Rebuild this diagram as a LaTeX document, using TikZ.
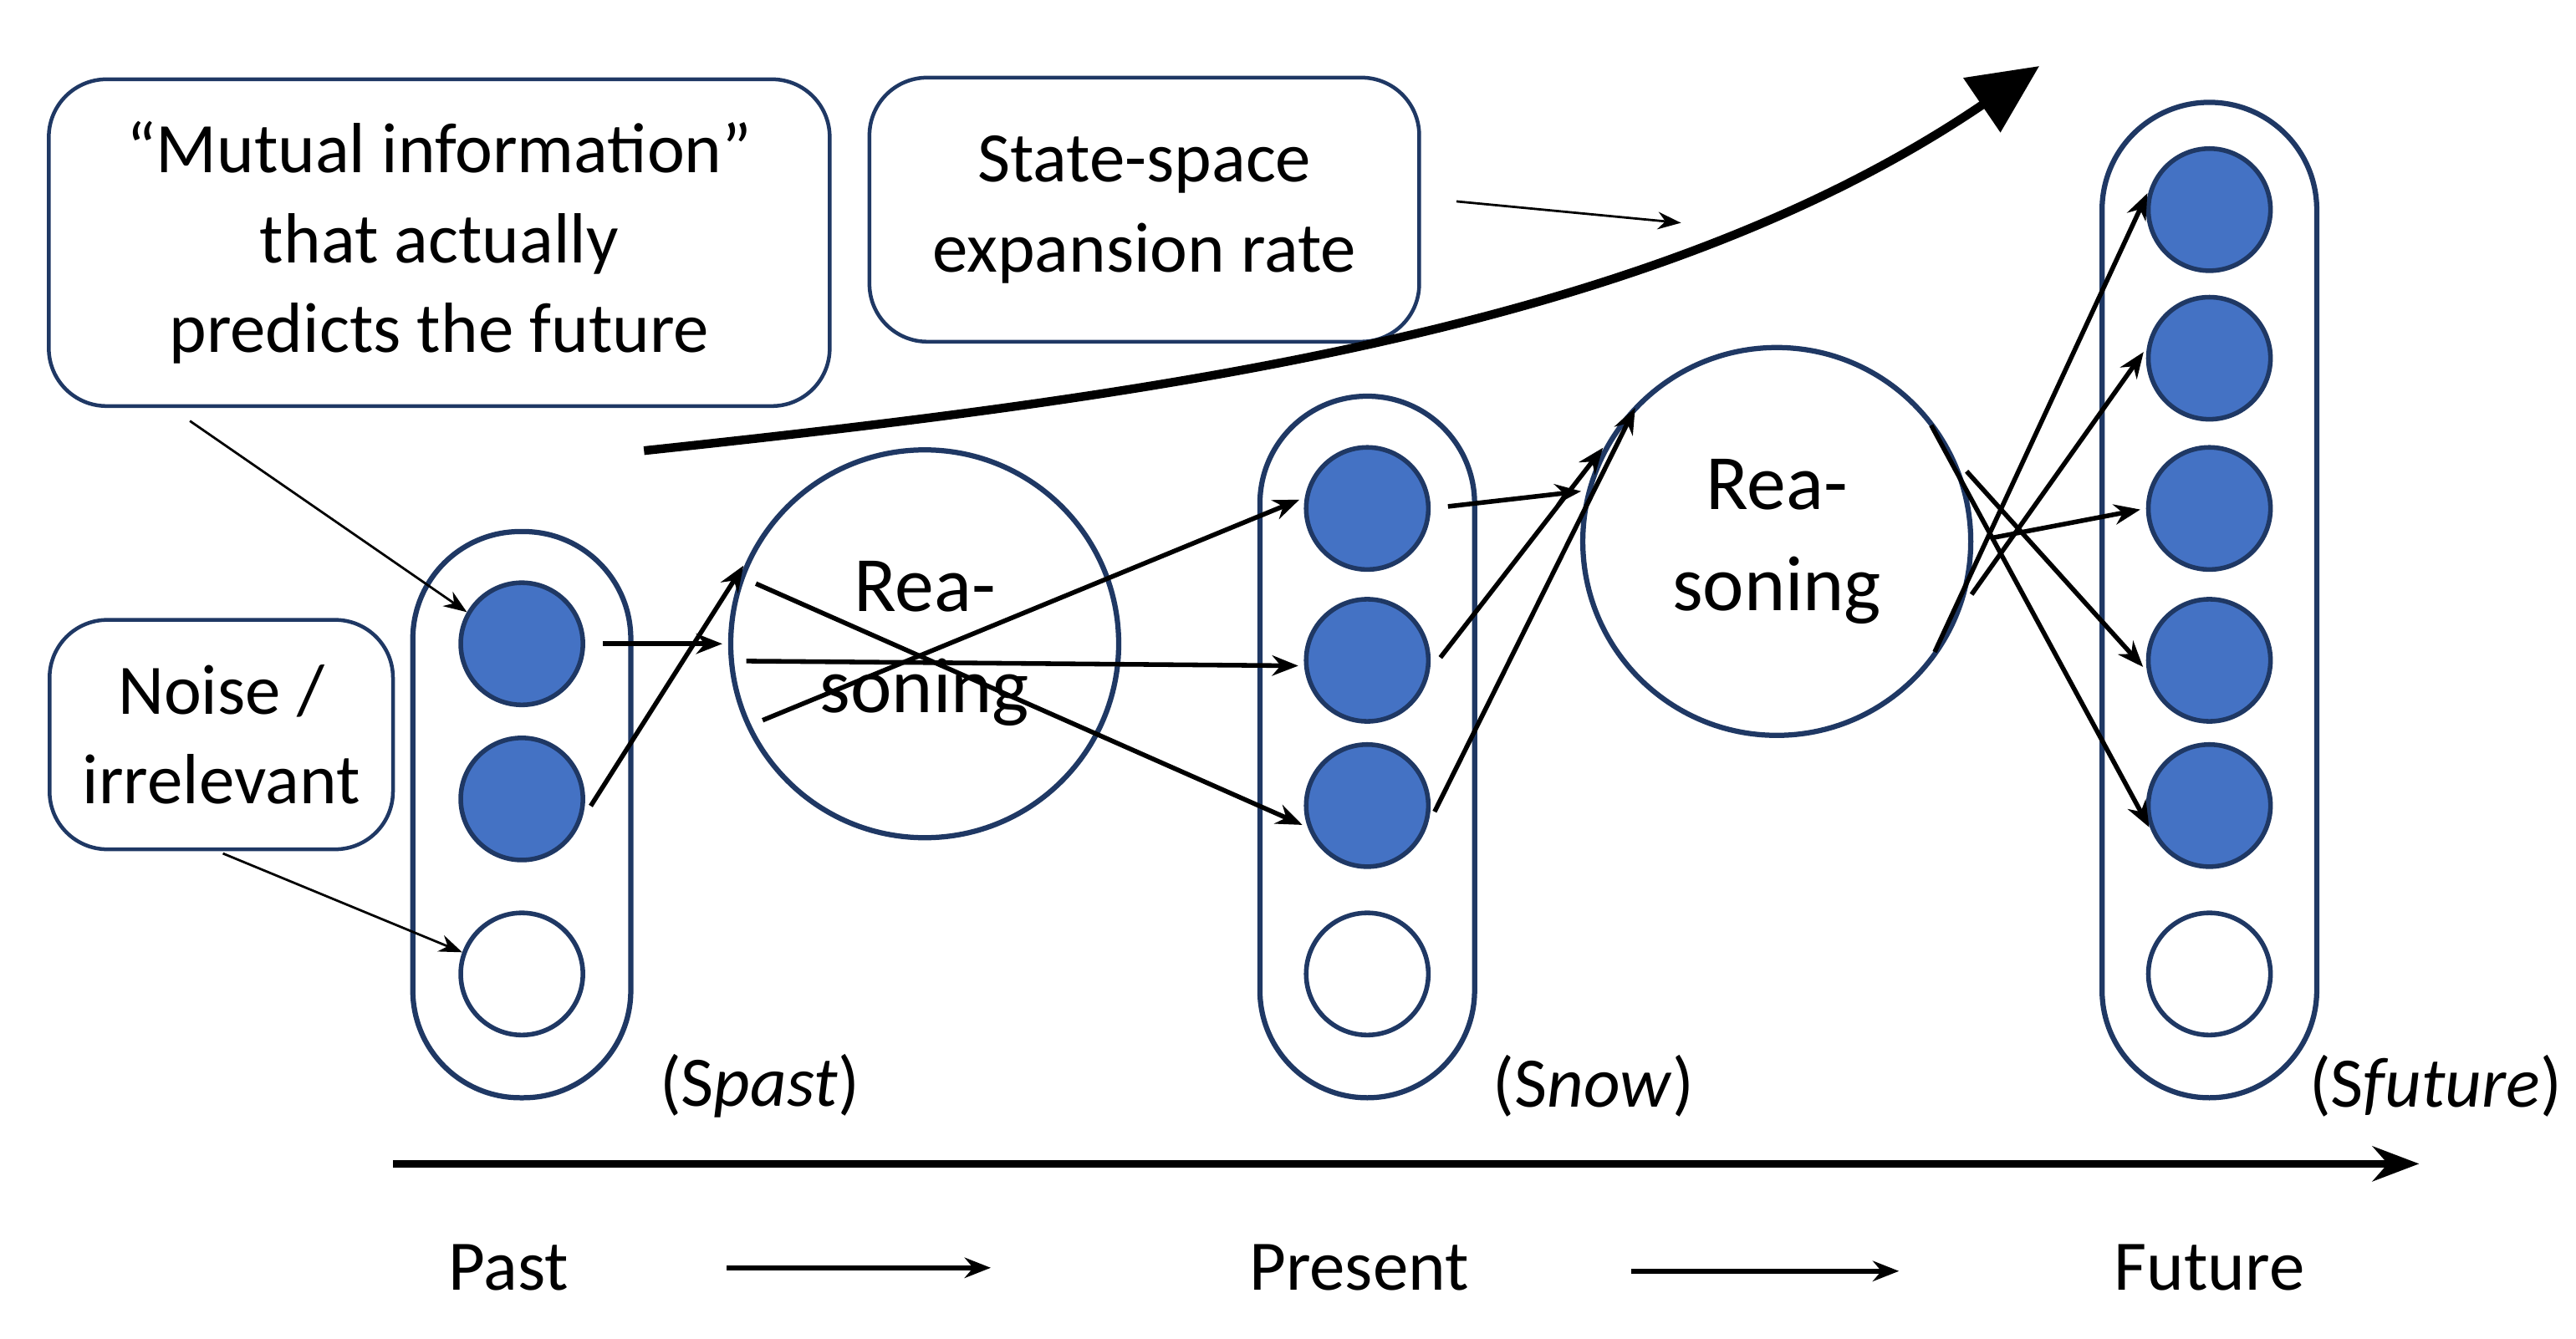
\documentclass[tikz,border=0pt]{standalone}
\usepackage{fontspec}
\setmainfont{Carlito}
\usetikzlibrary{arrows.meta}
\definecolor{navy}{HTML}{1F3864}
\definecolor{dot}{HTML}{4472C4}
\begin{document}
\begin{tikzpicture}[x=0.02cm,y=-0.02cm,
  every node/.style={font=\fontsize{24.5}{31}\selectfont},
  box/.style={draw=navy,line width=1.3pt,rounded corners=0.7cm,align=center,inner sep=0pt},
  capsule/.style={draw=navy,line width=1.8pt,rounded corners=1.3cm},
  dotf/.style={circle,draw=navy,line width=1.6pt,fill=dot,minimum size=1.48cm,inner sep=0pt},
  dote/.style={circle,draw=navy,line width=1.6pt,fill=white,minimum size=1.48cm,inner sep=0pt},
  rea/.style={circle,draw=navy,line width=1.8pt,minimum size=4.7cm,align=center,font=\fontsize{27}{35}\selectfont},
  ar/.style={-{Stealth[length=9pt,width=7pt]},line width=1.6pt,shorten <=6pt,shorten >=2pt},
  thin/.style={-{Stealth[length=8pt,width=6pt]},line width=0.8pt}]
\useasboundingbox (0,0) rectangle (1560,811);
% boxes
\node[box,minimum width=9.46cm,minimum height=3.96cm] (mi) at (266,147) {``Mutual information''\\that actually\\predicts the future};
\node[box,minimum width=6.66cm,minimum height=3.2cm] (ss) at (693,127) {State-space\\expansion rate};
\node[box,minimum width=4.16cm,minimum height=2.78cm] (no) at (134,445) {Noise /\\irrelevant};
% capsules
\draw[capsule] (250,322) rectangle (382,665);
\draw[capsule] (763,240) rectangle (893,665);
\draw[capsule] (1273,62) rectangle (1403,665);
% past
\node[dotf] (p1) at (316,390) {};
\node[dotf] (p2) at (316,484) {};
\node[dote] (p3) at (316,590) {};
% now
\node[dotf] (n1) at (828,308) {};
\node[dotf] (n2) at (828,400) {};
\node[dotf] (n3) at (828,488) {};
\node[dote] (n4) at (828,590) {};
% future
\foreach \i/\y in {1/127,2/217,3/308,4/400,5/488} \node[dotf] (f\i) at (1338,\y) {};
\node[dote] (f6) at (1338,590) {};
% reasoning
\node[rea] (r1) at (560,390) {Rea-\\soning};
\node[rea] (r2) at (1076,328) {Rea-\\soning};
% labels
\node (lp) at (460,658) {(S\textit{past})};
\node (ln) at (965,658) {(S\textit{now})};
\node (lf) at (1475,658) {(S\textit{future})};
\node (tp) at (308,768) {Past};
\node (tn) at (823,768) {Present};
\node (tf) at (1338,768) {Future};
\coordinate (a0) at (238,705); \coordinate (a1) at (1465,705);
\draw[line width=2.6pt,-{Stealth[length=16pt,width=12pt]}] (a0) -- (a1);
\coordinate (b0) at (440,768); \coordinate (b1) at (600,768);
\coordinate (c0) at (988,770); \coordinate (c1) at (1150,770);
\draw[line width=1.8pt,-{Stealth[length=9pt,width=7pt]}] (b0) -- (b1);
\draw[line width=1.8pt,-{Stealth[length=9pt,width=7pt]}] (c0) -- (c1);
% growth arrow
\coordinate (g0) at (390,273); \coordinate (g1) at (1235,40);
\draw[line width=3pt,-{Triangle[length=24pt,width=22pt]}] (g0) .. controls (700,240) and (1000,200) .. (g1);
\coordinate (s0) at (882,122); \coordinate (s1) at (1018,135);
\draw[thin] (s0) -- (s1);
\coordinate (m0) at (115,255); \coordinate (q0) at (135,517);
\draw[thin] (m0) -- (p1.150);
\draw[thin] (q0) -- (p3.160);
% flows (angles mirrored because y axis points down)
\draw[ar] (p1.0) -- (r1.180);
\draw[ar] (p2.340) -- (r1.155);
\draw[ar] (r1.205) -- (n1.170);
\draw[ar] (r1.185) -- (n2.185);
\draw[ar] (r1.160) -- (n3.200);
\draw[ar] (n1.0) -- (r2.165);
\draw[ar] (n2.350) -- (r2.150);
\draw[ar] (n3.340) -- (r2.135);
\draw[ar] (r2.320) -- (f1.160);
\draw[ar] (r2.340) -- (f2.170);
\draw[ar] (r2.0) -- (f3.180);
\draw[ar] (r2.25) -- (f4.190);
\draw[ar] (r2.42) -- (f5.205);
\end{tikzpicture}
\end{document}
